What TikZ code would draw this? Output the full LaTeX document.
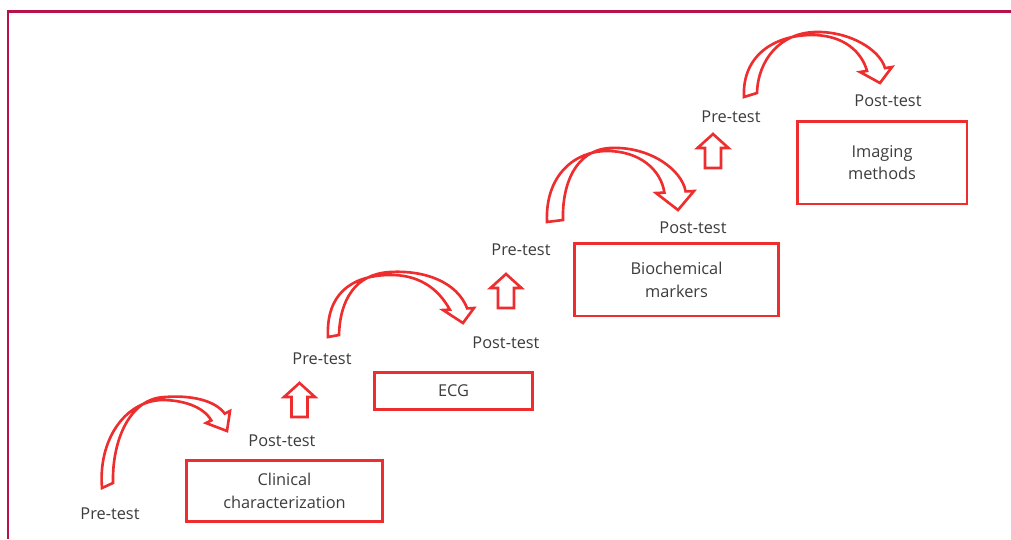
\documentclass[tikz,border=0pt]{standalone}
\usepackage{fontspec}
\setmainfont{Open Sans}
\definecolor{stepred}{HTML}{EE2E2E}
\definecolor{framered}{HTML}{B8124A}
\definecolor{labelgray}{HTML}{3C3C3C}
\tikzset{
  lbl/.style={text=labelgray,font=\fontsize{9.3}{13}\selectfont,inner sep=0pt,align=center},
  stepbox/.style={lbl,draw=stepred,line width=1.7pt},
  block/.style={draw=stepred,fill=white,line width=1.5pt,line join=miter}
}
% outlined up arrow: #1 centre x, #2 tip y
\newcommand\uparrowblock[2]{%
  \draw[block] (#1,#2) -- ++(15.5,14) -- ++(-7.5,0) -- ++(0,20) -- ++(-16,0)
    -- ++(0,-20) -- ++(-7.5,0) -- cycle;}
\begin{document}
\begin{tikzpicture}[x=0.02cm,y=-0.02cm]
\useasboundingbox (0,0) rectangle (1011,539);
\draw[framered,line width=1.7pt] (8,539) -- (8,11.5) -- (1011,11.5);

% labels and boxes
\node[lbl] (pre1) at (110,514) {Pre-test};
\node[lbl] (post1) at (282,441) {Post-test};
\node[stepbox,minimum width=3.94cm,minimum height=1.22cm] (clin) at (284.5,490.5) {Clinical\\characterization};
\node[lbl] (pre2) at (322,359) {Pre-test};
\node[lbl] (post2) at (506,343) {Post-test};
\node[stepbox,minimum width=3.18cm,minimum height=0.74cm] (ecg) at (453.5,390.5) {ECG};
\node[lbl] (pre3) at (521,250) {Pre-test};
\node[lbl] (post3) at (693,228) {Post-test};
\node[stepbox,minimum width=4.1cm,minimum height=1.46cm] (bio) at (676.5,279.5) {Biochemical\\markers};
\node[lbl] (pre4) at (731,117) {Pre-test};
\node[lbl] (post4) at (888,101) {Post-test};
\node[stepbox,minimum width=3.4cm,minimum height=1.66cm] (img) at (882,162.5) {Imaging\\methods};

% up arrows
\uparrowblock{299.5}{383}
\uparrowblock{506}{274}
\uparrowblock{713}{134}

% twisted curved arrows
\filldraw[block] (102,488) .. controls (98,440) and (125,401) .. (162,400)
  .. controls (182,400) and (203,406) .. (211.3,420.4) -- (206,423) -- (227,431) -- (230,411) -- (224.7,413.6)
  .. controls (215,400) and (190,395) .. (165,397) .. controls (130,398) and (112,440) .. (113,483) -- cycle;
\filldraw[block] (328,337) .. controls (326,295) and (350,276) .. (388,275)
  .. controls (418,274) and (438,288) .. (449.8,309.6) -- (443,310) -- (463,323) -- (474,308) -- (467.2,308.4)
  .. controls (457,282) and (425,270) .. (390,272) .. controls (355,274) and (340,300) .. (339,335) -- cycle;
\filldraw[block] (547,222) .. controls (545,175) and (575,151) .. (607,151)
  .. controls (640,151) and (661,170) .. (664.4,192.6) -- (656,193) -- (678,210) -- (694,191) -- (685.6,191.4)
  .. controls (682,170) and (650,146) .. (610,148) .. controls (575,150) and (562,185) .. (563,220) -- cycle;
\filldraw[block] (744,97) .. controls (742,55) and (775,35) .. (812,35)
  .. controls (845,35) and (862,53) .. (867,70.9) -- (860,72) -- (880,83) -- (892,67) -- (885,68.1)
  .. controls (880,50) and (850,31) .. (815,32) .. controls (780,33) and (758,60) .. (757,93) -- cycle;
\end{tikzpicture}
\end{document}
